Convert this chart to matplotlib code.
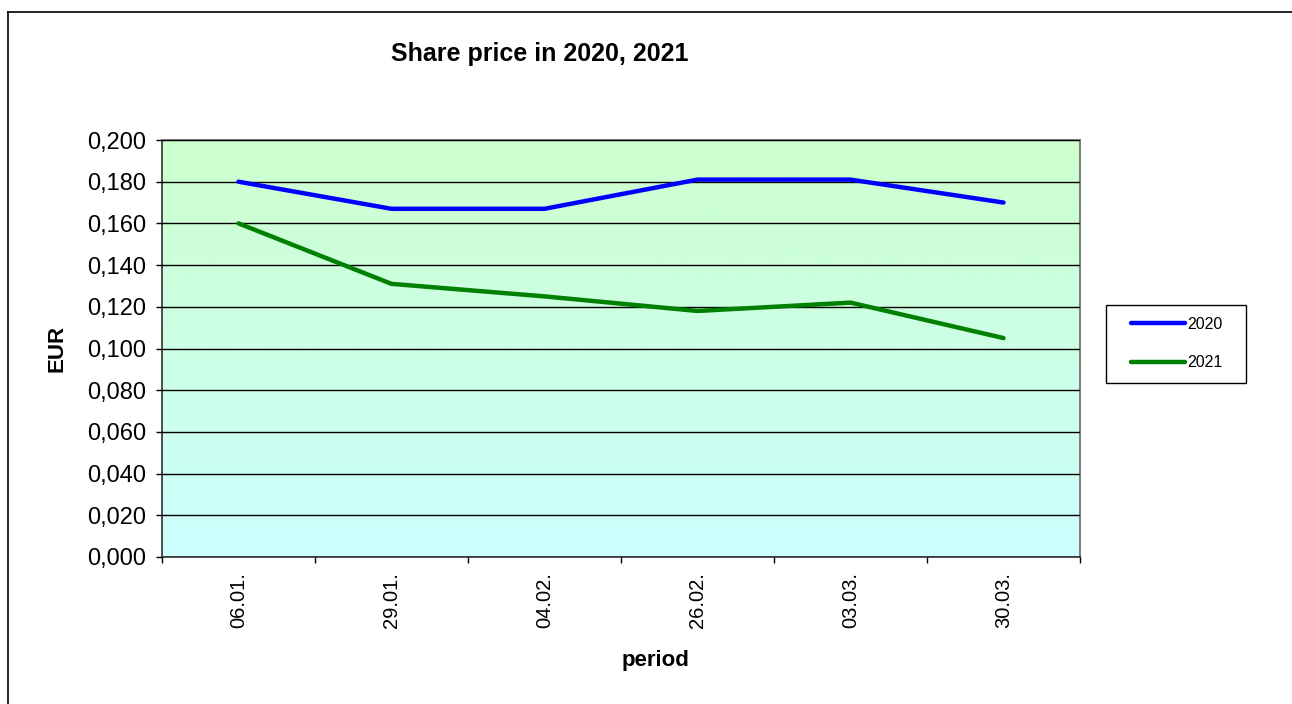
import numpy as np
import matplotlib
matplotlib.use("Agg")
import matplotlib.pyplot as plt
from matplotlib.colors import LinearSegmentedColormap
from matplotlib.ticker import FuncFormatter, FixedLocator, NullFormatter
from matplotlib.patches import Rectangle

plt.rcParams["font.family"] = ["Liberation Sans", "DejaVu Sans"]

periods = ["06.01.", "29.01.", "04.02.", "26.02.", "03.03.", "30.03."]
price_2020 = [0.180, 0.167, 0.167, 0.181, 0.181, 0.170]
price_2021 = [0.160, 0.131, 0.125, 0.118, 0.122, 0.105]

W, H = 1292, 704
fig = plt.figure(figsize=(W / 100, H / 100), dpi=100, facecolor="white")

# outer chart frame (top and left visible, rest cut off)
fig.add_artist(plt.Line2D([8 / W, 8 / W], [0, 1 - 12 / H],
                          transform=fig.transFigure, color="black", lw=1.2))
fig.add_artist(plt.Line2D([8 / W, 1], [1 - 12 / H, 1 - 12 / H],
                          transform=fig.transFigure, color="black", lw=1.2))

ax = fig.add_axes([162 / W, 1 - 557 / H, 918 / W, 417 / H])

# gradient background: light green top -> light cyan bottom
cmap = LinearSegmentedColormap.from_list("bg", ["#ccffff", "#ccffcc"])
grad = np.linspace(0, 1, 256).reshape(-1, 1)
ax.imshow(grad, cmap=cmap, aspect="auto", origin="lower",
          extent=[0, 1, 0, 1], transform=ax.transAxes, zorder=0)

x = np.arange(len(periods))
l20, = ax.plot(x, price_2020, color="#0000ff", lw=3.2, label="2020", zorder=3,
               solid_capstyle="round")
l21, = ax.plot(x, price_2021, color="#008000", lw=3.2, label="2021", zorder=3,
               solid_capstyle="round")

ax.set_xlim(-0.5, len(periods) - 0.5)
ax.set_ylim(0, 0.2)

ax.set_yticks(np.arange(0, 0.2001, 0.02))
ax.yaxis.set_major_formatter(FuncFormatter(lambda v, p: f"{v:.3f}".replace(".", ",")))
ax.grid(axis="y", color="black", lw=1, zorder=1)
ax.set_axisbelow(False)

ax.xaxis.set_major_locator(FixedLocator(np.arange(-0.5, len(periods), 1)))
ax.xaxis.set_major_formatter(NullFormatter())
ax.xaxis.set_minor_locator(FixedLocator(x))
ax.set_xticklabels(periods, minor=True, rotation=90)
ax.tick_params(axis="x", which="minor", length=0, labelsize=14.5, pad=11)
ax.tick_params(axis="x", which="major", length=4.5, width=1, direction="out")
ax.tick_params(axis="y", length=4.5, width=1, direction="out", labelsize=17, pad=7)

for side in ("top", "right"):
    ax.spines[side].set_color("#808080")
    ax.spines[side].set_linewidth(1.5)
for side in ("left", "bottom"):
    ax.spines[side].set_color("#303030")
    ax.spines[side].set_linewidth(1.2)

ax.set_ylabel("EUR", fontsize=16, fontweight="bold")
ax.yaxis.set_label_coords(-0.103, 0.5)
ax.set_xlabel("period", fontsize=16, fontweight="bold")
ax.xaxis.set_label_coords(0.538, -0.222)

fig.text(540 / W, 1 - 54 / H, "Share price in 2020, 2021",
         fontsize=18, fontweight="bold", ha="center", va="center")

# legend box drawn separately so its padding can match the original
fig.add_artist(Rectangle((1106 / W, 1 - 383 / H), 140 / W, 78 / H,
                         transform=fig.transFigure, facecolor="white",
                         edgecolor="black", lw=1, zorder=5))
leg = fig.legend(handles=[l20, l21], loc="center left",
                 bbox_to_anchor=(1131 / W, 1 - 343.5 / H),
                 bbox_transform=fig.transFigure, frameon=False,
                 fontsize=11.5, handlelength=3.4, handletextpad=0.15,
                 labelspacing=1.5, borderpad=0, borderaxespad=0)
leg.set_zorder(6)

fig.savefig("out.png", dpi=100, facecolor="white")
